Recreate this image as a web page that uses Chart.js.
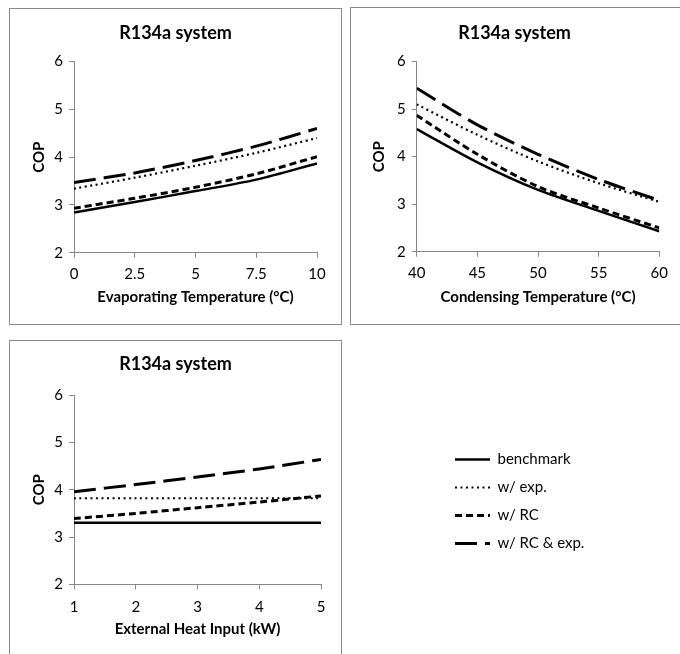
<!DOCTYPE html>
<html>
<head>
<meta charset="utf-8">
<script src="https://cdn.jsdelivr.net/npm/chart.js@4/dist/chart.umd.min.js"></script>
<style>
  html, body { margin: 0; padding: 0; background: #fff; }
  body { width: 680px; height: 654px; position: relative; overflow: hidden; }
  .box { position: absolute; border: 1px solid #8a8a8a; box-sizing: border-box; }
  .cv { position: absolute; }
</style>
</head>
<body>
<div class="box" style="left:9px;top:8px;width:333px;height:317px;"></div>
<div class="box" style="left:350px;top:7px;width:340px;height:318px;"></div>
<div class="box" style="left:9px;top:340px;width:333px;height:330px;"></div>
<div class="cv" style="left:10px;top:9px;width:331px;height:315px;"><canvas id="c1"></canvas></div>
<div class="cv" style="left:351px;top:9px;width:327px;height:315px;"><canvas id="c2"></canvas></div>
<div class="cv" style="left:10px;top:341px;width:331px;height:313px;"><canvas id="c3"></canvas></div>
<div class="cv" style="left:442px;top:439px;width:420px;height:170px;"><canvas id="c4"></canvas></div>
<script>
// ---- data ----
const seriesNames = ['benchmark', 'w/ exp.', 'w/ RC', 'w/ RC & exp.'];
const chartTitle = 'R134a system';
const yTitle = 'COP';

const evapTemps = [0, 2.5, 5, 7.5, 10];
const evapBenchmark = [2.84, 3.06, 3.29, 3.53, 3.87];
const evapExp = [3.34, 3.57, 3.82, 4.09, 4.40];
const evapRC = [2.93, 3.14, 3.37, 3.65, 4.01];
const evapRCExp = [3.47, 3.67, 3.93, 4.23, 4.60];

const condTemps = [40, 45, 50, 55, 60];
const condBenchmark = [4.58, 3.88, 3.30, 2.86, 2.43];
const condExp = [5.10, 4.46, 3.90, 3.44, 3.05];
const condRC = [4.87, 4.05, 3.37, 2.92, 2.50];
const condRCExp = [5.44, 4.67, 4.05, 3.52, 3.08];

const heatInputs = [1, 2, 3, 4, 5];
const heatBenchmark = [3.30, 3.30, 3.30, 3.30, 3.30];
const heatExp = [3.82, 3.82, 3.82, 3.82, 3.82];
const heatRC = [3.39, 3.50, 3.62, 3.74, 3.87];
const heatRCExp = [3.96, 4.11, 4.27, 4.44, 4.64];

// ---- styles ----
const FONT = 'Lato, "Open Sans", sans-serif';
const lineStyles = [
  { borderWidth: 2.5, borderDash: [] },
  { borderWidth: 2.2, borderDash: [2, 3.5] },
  { borderWidth: 3, borderDash: [7, 4] },
  { borderWidth: 3, borderDash: [22, 8] }
];
const axisColor = '#868686';

function makeDatasets(xs, seriesList) {
  return seriesList.map((ys, i) => ({
    label: seriesNames[i],
    data: xs.map((x, j) => ({ x: x, y: ys[j] })),
    borderColor: '#000',
    backgroundColor: '#000',
    borderWidth: lineStyles[i].borderWidth,
    borderDash: lineStyles[i].borderDash,
    borderCapStyle: 'butt',
    pointRadius: 0,
    tension: 0.3,
    fill: false
  }));
}

function makeChart(id, xs, seriesList, cfg) {
  return new Chart(document.getElementById(id), {
    type: 'line',
    data: { datasets: makeDatasets(xs, seriesList) },
    options: {
      responsive: true,
      maintainAspectRatio: false,
      animation: false,
      devicePixelRatio: 1,
      layout: { padding: 0 },
      plugins: {
        legend: { display: false },
        tooltip: { enabled: false },
        title: {
          display: true,
          text: chartTitle,
          color: '#000',
          font: { family: FONT, size: 18, weight: 'bold' },
          padding: { top: cfg.titleTop, bottom: cfg.titleBottom }
        }
      },
      scales: {
        x: {
          type: 'linear',
          min: xs[0],
          max: xs[xs.length - 1],
          afterFit: (s) => { s.height = cfg.xHeight; },
          ticks: {
            stepSize: cfg.xStep,
            color: '#000',
            font: { family: FONT, size: 15 },
            padding: cfg.xTickPad,
            maxRotation: 0
          },
          grid: { display: true, drawOnChartArea: false, drawTicks: true, tickLength: 5, color: axisColor },
          border: { display: true, color: axisColor },
          title: {
            display: true,
            text: cfg.xTitle,
            color: '#000',
            font: { family: FONT, size: 15, weight: 'bold' },
            padding: { top: 0, bottom: cfg.xTitleBottom }
          }
        },
        y: {
          type: 'linear',
          min: 2,
          max: 6,
          afterFit: (s) => { s.width = cfg.yWidth; },
          ticks: {
            stepSize: 1,
            color: '#000',
            font: { family: FONT, size: 15 },
            padding: 6
          },
          grid: { display: true, drawOnChartArea: false, drawTicks: true, tickLength: 5, color: axisColor },
          border: { display: true, color: axisColor },
          title: {
            display: true,
            text: yTitle,
            color: '#000',
            font: { family: FONT, size: 15, weight: 'bold' },
            padding: { top: cfg.yTitleTop, bottom: 0 }
          }
        },
        spacer: {
          type: 'linear',
          position: 'right',
          display: true,
          afterFit: (s) => { s.width = cfg.padRight; },
          ticks: { display: false },
          grid: { display: false },
          border: { display: false }
        }
      }
    }
  });
}

makeChart('c1', evapTemps, [evapBenchmark, evapExp, evapRC, evapRCExp], {
  padRight: 24, titleTop: 13.5, titleBottom: 17.5, xHeight: 71.3, xStep: 2.5, xTickPad: 7,
  xTitle: 'Evaporating Temperature (°C)', xTitleBottom: 18, yWidth: 64, yTitleTop: 20
});
makeChart('c2', condTemps, [condBenchmark, condExp, condRC, condRCExp], {
  padRight: 18.7, titleTop: 13.5, titleBottom: 17.5, xHeight: 72.3, xStep: 5, xTickPad: 7,
  xTitle: 'Condensing Temperature (°C)', xTitleBottom: 18, yWidth: 65.7, yTitleTop: 19
});
makeChart('c3', heatInputs, [heatBenchmark, heatExp, heatRC, heatRCExp], {
  padRight: 20, titleTop: 12, titleBottom: 20.6, xHeight: 69.7, xStep: 1, xTickPad: 9,
  xTitle: 'External Heat Input (kW)', xTitleBottom: 16, yWidth: 64, yTitleTop: 20
});

// legend-only chart
new Chart(document.getElementById('c4'), {
  type: 'line',
  data: { datasets: makeDatasets([], [[], [], [], []]) },
  options: {
    responsive: true,
    maintainAspectRatio: false,
    animation: false,
    devicePixelRatio: 1,
    layout: { padding: 0 },
    scales: { x: { display: false }, y: { display: false } },
    plugins: {
      tooltip: { enabled: false },
      legend: {
        display: true,
        position: 'left',
        align: 'start',
        labels: {
          usePointStyle: true,
          pointStyle: 'line',
          pointStyleWidth: 35,
          color: '#000',
          font: { family: FONT, size: 15 },
          padding: 13,
          generateLabels: (chart) => chart.data.datasets.map((ds, i) => ({
            text: ds.label,
            fillStyle: '#000',
            strokeStyle: '#000',
            fontColor: '#000',
            lineWidth: ds.borderWidth,
            lineDash: ds.borderDash,
            lineCap: 'butt',
            pointStyle: 'line',
            hidden: false,
            datasetIndex: i
          }))
        }
      }
    }
  }
});
</script>
</body>
</html>
